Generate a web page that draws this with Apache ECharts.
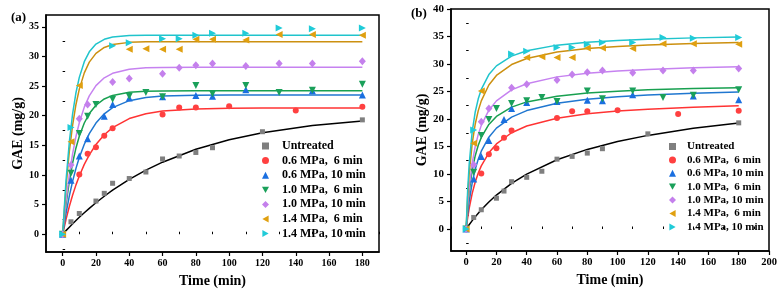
<!DOCTYPE html>
<html>
<head>
<meta charset="utf-8">
<script src="https://cdn.jsdelivr.net/npm/echarts@6/dist/echarts.min.js"></script>
<style>
  html, body { margin: 0; padding: 0; background: #fff; }
  #chart { width: 782px; height: 299px; }
</style>
</head>
<body>
<div id="chart"></div>
<script>
// measured points (same data in both panels), [time, GAE]
const untreated = [[0,0],[5,2.1],[10,3.5],[20,5.6],[25,6.9],[30,8.6],[40,9.4],[50,10.5],[60,12.7],[70,13.2],[80,13.8],[90,14.6],[120,17.3],[180,19.3]];
const mpa06t6 = [[0,0],[10,10.1],[15,13.6],[20,14.7],[25,16.6],[30,17.9],[60,20.2],[70,21.4],[80,21.4],[100,21.6],[140,20.9],[180,21.5]];
const mpa06t10 = [[0,0],[5,9.1],[10,13.2],[15,16.1],[25,19.9],[30,21.9],[40,23.0],[60,23.2],[80,23.4],[90,23.3],[110,24.4],[150,24.2],[180,23.5]];
const mpa10t6 = [[0,0],[5,10.3],[10,17.0],[15,19.9],[20,21.9],[30,22.8],[40,23.3],[50,23.9],[60,23.2],[80,25.1],[90,23.7],[110,25.1],[130,23.9],[150,24.3],[180,25.3]];
const mpa10t10 = [[0,0],[5,11.7],[10,19.5],[15,21.9],[30,25.7],[40,26.3],[60,27.1],[70,28.1],[80,28.5],[90,28.8],[110,28.4],[130,28.8],[150,28.8],[180,29.2]];
const mpa14t6 = [[0,0],[5,15.6],[10,25.1],[40,31.2],[50,31.3],[60,31.2],[70,31.2],[80,32.9],[90,32.9],[110,32.8],[130,33.7],[150,33.7],[180,33.6]];
const mpa14t10 = [[0,0],[5,18.0],[30,31.8],[40,32.3],[60,33.0],[70,33.0],[80,33.6],[90,33.9],[110,33.9],[130,34.8],[150,34.7],[180,34.8]];

// fitted curves
const fitTimeA = [0,2,4,6,8,10,13,16,20,25,30,40,50,60,80,100,120,150,180];
const fitA = [
  [0,0.61,1.19,1.76,2.32,2.86,3.63,4.37,5.31,6.41,7.43,9.25,10.82,12.16,14.33,15.93,17.11,18.34,19.12],
  [0,2.48,4.68,6.62,8.33,9.84,11.79,13.40,15.14,16.78,17.98,19.52,20.34,20.78,21.15,21.26,21.29,21.30,21.30],
  [0,3.48,6.44,8.96,11.11,12.94,15.19,16.97,18.76,20.32,21.37,22.54,23.07,23.31,23.46,23.49,23.5,23.5,23.5],
  [0,4.97,8.92,12.06,14.56,16.54,18.77,20.36,21.77,22.83,23.43,23.96,24.12,24.17,24.2,24.2,24.2,24.2,24.2],
  [0,5.57,10.04,13.62,16.50,18.81,21.45,23.35,25.08,26.40,27.16,27.85,28.08,28.16,28.2,28.2,28.2,28.2,28.2],
  [0,7.94,13.94,18.47,21.90,24.49,27.23,29.04,30.52,31.52,32.01,32.38,32.47,32.49,32.5,32.5,32.5,32.5,32.5],
  [0,8.96,15.53,20.34,23.88,26.47,29.12,30.79,32.09,32.90,33.28,33.53,33.58,33.6,33.6,33.6,33.6,33.6,33.6]
];

// fitted curves
const fitTimeB = [0,1,2,4,6,8,10,15,20,30,40,60,80,100,120,150,180];
const fitB = [
  [0,0.40,0.78,1.52,2.21,2.87,3.50,4.92,6.17,8.28,9.99,12.59,14.47,15.90,17.02,18.30,19.28],
  [0,2.03,3.74,6.47,8.54,10.17,11.48,13.86,15.47,17.50,18.73,20.15,20.94,21.44,21.79,22.15,22.40],
  [0,2.77,5.00,8.39,10.85,12.70,14.15,16.69,18.34,20.35,21.53,22.86,23.58,24.04,24.36,24.68,24.90],
  [0,3.82,6.68,10.68,13.33,15.23,16.65,19.01,20.47,22.16,23.11,24.15,24.71,25.06,25.30,25.53,25.70],
  [0,4.24,7.45,11.98,15.02,17.20,18.84,21.60,23.30,25.30,26.42,27.66,28.32,28.74,29.02,29.30,29.50],
  [0,5.86,10.03,15.58,19.09,21.52,23.30,26.19,27.92,29.90,31.01,32.17,32.80,33.19,33.45,33.72,33.90],
  [0,7.05,11.78,17.71,21.28,23.67,25.38,28.08,29.66,31.43,32.40,33.43,33.96,34.29,34.52,34.75,34.90]
];

const names = ['Untreated', '0.6 MPa,  6 min', '0.6 MPa, 10 min', '1.0 MPa,  6 min', '1.0 MPa, 10 min', '1.4 MPa,  6 min', '1.4 MPa, 10 min'];
const points = [untreated, mpa06t6, mpa06t10, mpa10t6, mpa10t10, mpa14t6, mpa14t10];

const ticksXA = [0,20,40,60,80,100,120,140,160,180];
const minorXA = [-10,10,30,50,70,90,110,130,150,170,190];
const ticksXB = [0,20,40,60,80,100,120,140,160,180,200];
const minorXB = [-10,10,30,50,70,90,110,130,150,170,190];
const ticksYA = [0,5,10,15,20,25,30,35];
const minorYA = [-2.5,2.5,7.5,12.5,17.5,22.5,27.5,32.5];
const ticksYB = [0,5,10,15,20,25,30,35,40];
const minorYB = [-2.5,2.5,7.5,12.5,17.5,22.5,27.5,32.5,37.5];

const pointColors = ['#7f7f7f', '#ff4040', '#1a6fe0', '#1aa05a', '#c480ec', '#e0a010', '#20cbd8'];
const lineColors = ['#000000', '#ff3333', '#2077d0', '#18a050', '#c682f0', '#cc9010', '#20c4cc'];
const symbols = [
  'rect', 'circle', 'triangle',
  'path://M0,0L10,0L5,9Z',
  'diamond',
  'path://M9,0L9,10L0,5Z',
  'path://M0,0L0,10L9,5Z'
];
const sizes = [5, 6, 7, 7, [7, 8], 7, 7];

const font = 'Liberation Serif';

const chart = echarts.init(document.getElementById('chart'));

function mainX(gi, min, max, ticks, fs) {
  return {
    type: 'value', gridIndex: gi, min: min, max: max,
    name: 'Time (min)', nameLocation: 'middle', nameGap: 22,
    nameTextStyle: { fontFamily: font, fontWeight: 'bold', fontSize: 14, color: '#000' },
    axisLine: { show: true, onZero: false, lineStyle: { color: '#000', width: 1.5 } },
    axisTick: { show: true, customValues: ticks, length: 4, lineStyle: { color: '#000', width: 1.2 } },
    axisLabel: { customValues: ticks, margin: 6, fontFamily: font, fontWeight: 'bold', fontSize: fs, color: '#000' },
    splitLine: { show: false }
  };
}
function minorX(gi, min, max, ticks) {
  return {
    type: 'value', gridIndex: gi, min: min, max: max,
    axisLine: { show: false },
    axisTick: { show: true, customValues: ticks, length: 2.5, lineStyle: { color: '#000', width: 1 } },
    axisLabel: { show: false, customValues: ticks },
    splitLine: { show: false }
  };
}
function mainY(gi, min, max, ticks, fs, gap) {
  return {
    type: 'value', gridIndex: gi, min: min, max: max,
    name: 'GAE (mg/g)', nameLocation: 'middle', nameGap: gap, nameRotate: 90,
    nameTextStyle: { fontFamily: font, fontWeight: 'bold', fontSize: 14, color: '#000' },
    axisLine: { show: true, onZero: false, lineStyle: { color: '#000', width: 1.5 } },
    axisTick: { show: true, customValues: ticks, length: 4, lineStyle: { color: '#000', width: 1.2 } },
    axisLabel: { customValues: ticks, margin: 7, fontFamily: font, fontWeight: 'bold', fontSize: fs, color: '#000' },
    splitLine: { show: false }
  };
}
function minorY(gi, min, max, ticks) {
  return {
    type: 'value', gridIndex: gi, min: min, max: max,
    axisLine: { show: false },
    axisTick: { show: true, customValues: ticks, length: 2.5, lineStyle: { color: '#000', width: 1 } },
    axisLabel: { show: false, customValues: ticks },
    splitLine: { show: false }
  };
}

const series = [];
[[fitTimeA, fitA, 0], [fitTimeB, fitB, 1]].forEach(function (p) {
  p[1].forEach(function (vals, i) {
    series.push({
      type: 'line', xAxisIndex: p[2], yAxisIndex: p[2],
      data: p[0].map(function (t, k) { return [t, vals[k]]; }),
      smooth: false, showSymbol: false, silent: true,
      lineStyle: { color: lineColors[i], width: 1.5, join: 'round' }, z: 2
    });
  });
});
[0, 1].forEach(function (gi) {
  points.forEach(function (d, i) {
    series.push({
      type: 'scatter', name: names[i], xAxisIndex: gi, yAxisIndex: gi,
      data: d, symbol: symbols[i], symbolSize: sizes[i],
      itemStyle: { color: pointColors[i], opacity: 1 }, z: 3
    });
  });
});

chart.setOption({
  animation: false,
  backgroundColor: '#fff',
  grid: [
    { left: 46, top: 15, width: 333, height: 237, show: true, borderColor: '#000', borderWidth: 1.5, backgroundColor: 'transparent' },
    { left: 451, top: 9, width: 318, height: 242, show: true, borderColor: '#000', borderWidth: 1.5, backgroundColor: 'transparent' }
  ],
  xAxis: [
    mainX(0, -10, 190, ticksXA, 10),
    mainX(1, -10, 200, ticksXB, 10.5),
    minorX(0, -10, 190, minorXA),
    minorX(1, -10, 200, minorXB)
  ],
  yAxis: [
    mainY(0, -3, 37, ticksYA, 10, 21),
    mainY(1, -4, 40, ticksYB, 11, 22),
    minorY(0, -3, 37, minorYA),
    minorY(1, -4, 40, minorYB)
  ],
  legend: [
    {
      data: names, orient: 'vertical', left: 257, top: 135,
      itemWidth: 7, itemHeight: 7, itemGap: 2.6,
      textStyle: { fontFamily: font, fontWeight: 'bold', fontSize: 12, lineHeight: 12, color: '#000', padding: [0, 0, 0, 8] }
    },
    {
      data: names, orient: 'vertical', left: 664, top: 136,
      itemWidth: 7, itemHeight: 7, itemGap: 2.4,
      textStyle: { fontFamily: font, fontWeight: 'bold', fontSize: 11, lineHeight: 11, color: '#000', padding: [0, 0, 0, 6] }
    }
  ],
  graphic: [
    { type: 'text', left: 11, top: 11, style: { text: '(a)', fontFamily: font, fontWeight: 'bold', fontSize: 13, fill: '#000' } },
    { type: 'text', left: 411, top: 7, style: { text: '(b)', fontFamily: font, fontWeight: 'bold', fontSize: 13, fill: '#000' } }
  ],
  series: series
});
</script>
</body>
</html>
